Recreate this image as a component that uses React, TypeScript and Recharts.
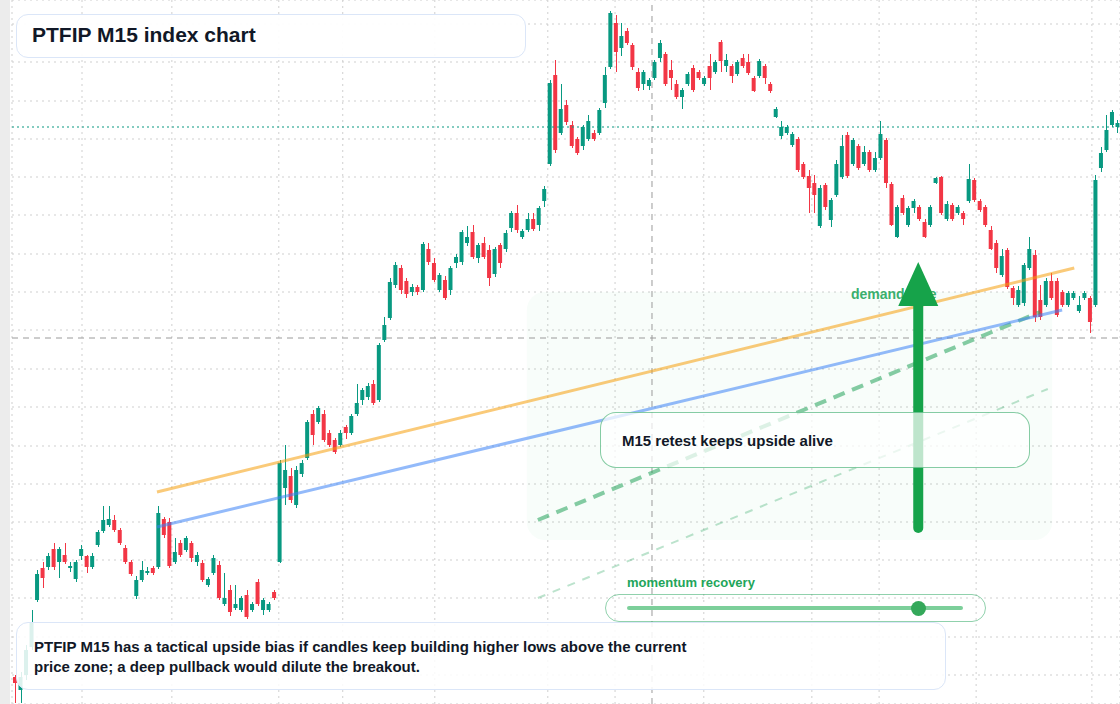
import React from 'react';
import {
  ComposedChart,
  Bar,
  XAxis,
  YAxis,
  CartesianGrid,
  ReferenceLine,
  ReferenceArea,
  ReferenceDot,
} from 'recharts';

// OHLC per M15 bar (index points)
const opens = [
  27, 14, 29, 57, 104, 136, 137, 155, 142, 149,
  136, 125, 148, 148, 137, 159, 173, 179, 184, 174,
  156, 142, 108, 124, 131, 136, 137, 185, 182, 142,
  161, 154, 161, 142, 141, 119, 131, 139, 100, 114,
  96, 94, 109, 94, 122, 94, 94, 112, 142, 216,
  228, 199, 230, 246, 290, 282, 290, 271, 264, 259,
  277, 271, 290, 304, 307, 320, 304, 364, 386, 419,
  436, 423, 412, 417, 414, 455, 441, 414, 424, 414,
  441, 442, 461, 472, 446, 461, 454, 430, 459, 455,
  476, 491, 467, 474, 485, 479, 503, 540, 629, 571,
  599, 579, 565, 558, 565, 571, 571, 601, 637, 681,
  656, 673, 659, 632, 620, 618, 626, 646, 650, 634,
  620, 607, 620, 636, 632, 620, 638, 632, 662, 638,
  638, 630, 646, 642, 626, 628, 638, 620, 587, 568,
  571, 559, 565, 540, 528, 521, 478, 519, 484, 509,
  527, 569, 540, 558, 540, 552, 534, 546, 564, 520,
  467, 506, 479, 496, 497, 482, 479, 521, 527, 485,
  499, 491, 491, 503, 524, 503, 497, 474, 461, 429,
  454, 416, 399, 401, 436, 449, 404, 399, 423, 423,
  412, 399, 406, 393, 406, 406, 399, 536, 554, 579,
  577,
];

const highs = [
  29, 32, 59, 94, 134, 142, 151, 161, 157, 161,
  142, 144, 159, 149, 151, 174, 198, 198, 189, 176,
  159, 144, 128, 143, 137, 138, 198, 187, 186, 166,
  164, 168, 163, 152, 144, 127, 149, 143, 131, 119,
  119, 108, 114, 102, 125, 106, 102, 114, 244, 259,
  236, 238, 244, 284, 294, 298, 294, 274, 266, 274,
  279, 290, 320, 316, 321, 324, 361, 387, 426, 442,
  439, 426, 420, 419, 462, 461, 446, 431, 428, 438,
  450, 474, 478, 479, 461, 467, 459, 457, 461, 474,
  493, 499, 475, 491, 491, 498, 518, 624, 644, 620,
  604, 583, 567, 579, 589, 574, 596, 637, 693, 689,
  681, 676, 661, 636, 634, 626, 644, 664, 652, 644,
  624, 616, 632, 639, 634, 628, 650, 644, 664, 650,
  640, 644, 650, 650, 628, 645, 640, 622, 597, 583,
  579, 572, 567, 542, 534, 529, 519, 521, 506, 544,
  569, 572, 566, 560, 558, 554, 552, 583, 566, 522,
  499, 509, 498, 505, 499, 485, 499, 527, 528, 503,
  501, 499, 493, 540, 526, 505, 499, 478, 464, 455,
  456, 418, 418, 441, 467, 454, 419, 426, 431, 426,
  414, 413, 413, 408, 413, 408, 529, 557, 589, 594,
  584,
];

const lows = [
  1, 1, 24, 54, 102, 116, 134, 134, 126, 140,
  132, 122, 144, 131, 135, 157, 171, 177, 172, 159,
  140, 128, 105, 122, 129, 129, 135, 166, 136, 140,
  147, 152, 142, 138, 122, 117, 129, 104, 98, 88,
  94, 92, 85, 92, 98, 89, 92, 104, 141, 199,
  201, 196, 227, 244, 259, 280, 262, 257, 250, 257,
  265, 269, 288, 299, 304, 299, 302, 362, 384, 416,
  410, 406, 408, 409, 412, 439, 422, 412, 404, 409,
  436, 439, 458, 445, 441, 445, 418, 427, 436, 452,
  472, 471, 465, 472, 473, 473, 497, 538, 551, 569,
  579, 556, 549, 554, 563, 563, 569, 596, 635, 632,
  648, 659, 634, 613, 614, 614, 624, 642, 618, 614,
  605, 595, 618, 612, 624, 618, 614, 630, 632, 632,
  621, 628, 636, 629, 612, 626, 620, 611, 586, 565,
  569, 557, 532, 525, 491, 491, 476, 494, 477, 507,
  525, 526, 538, 534, 538, 532, 532, 544, 516, 478,
  466, 489, 477, 491, 483, 466, 477, 520, 489, 483,
  483, 489, 479, 501, 502, 492, 477, 454, 431, 427,
  415, 399, 397, 398, 434, 382, 384, 397, 404, 387,
  397, 397, 404, 391, 404, 371, 397, 532, 552, 577,
  571,
];

const closes = [
  21, 27, 54, 82, 130, 126, 148, 137, 155, 142,
  138, 142, 155, 137, 148, 172, 184, 185, 174, 161,
  142, 130, 124, 134, 133, 131, 191, 169, 138, 152,
  149, 166, 146, 149, 124, 125, 146, 106, 106, 92,
  100, 106, 87, 100, 100, 104, 100, 106, 241, 234,
  204, 234, 241, 282, 269, 296, 264, 259, 252, 271,
  271, 288, 301, 314, 318, 301, 359, 379, 422, 439,
  414, 410, 417, 412, 460, 442, 424, 429, 406, 436,
  447, 472, 467, 447, 459, 447, 426, 455, 441, 471,
  491, 474, 473, 485, 475, 496, 515, 621, 554, 595,
  582, 558, 551, 577, 583, 565, 594, 629, 691, 652,
  668, 661, 637, 616, 632, 624, 642, 661, 620, 626,
  607, 614, 630, 614, 626, 626, 626, 642, 643, 644,
  628, 642, 638, 631, 613, 643, 626, 613, 595, 577,
  577, 570, 534, 527, 516, 509, 516, 497, 504, 540,
  558, 528, 564, 536, 552, 534, 546, 570, 521, 479,
  497, 491, 496, 503, 485, 467, 497, 526, 491, 500,
  485, 497, 485, 525, 504, 494, 479, 455, 436, 448,
  417, 406, 414, 439, 455, 387, 387, 423, 406, 389,
  399, 411, 411, 399, 411, 382, 524, 551, 574, 592,
  581,
];

// session boundaries (bar index) and price grid levels
const sessionTicks = [12.2, 28.5, 47.9, 59.5, 76.2, 96.7, 108.9, 125.0, 144.6, 156.8, 174.4, 195.4];
const priceGrid = [29, 67, 106, 144, 182, 220, 258, 297, 335, 374, 412, 450, 489, 527, 565, 603, 642, 680];

const crosshairBar = 115.6;
const crosshairPrice = 366;
const lastPrice = 577;

const resistanceLine = [{ x: 25.8, y: 212 }, { x: 192.2, y: 436 }];
const supportLine = [{ x: 25.8, y: 177 }, { x: 190.0, y: 394 }];
const fastProjection = [{ x: 94.9, y: 184 }, { x: 186.0, y: 392 }];
const slowProjection = [{ x: 94.9, y: 106 }, { x: 187.4, y: 315 }];
const demandZone = { x1: 92.9, x2: 188.2, y1: 164, y2: 412 };
const demandLabel = { x: 151.7, y: 405, text: 'demand side' };
const arrowBar = 163.9;
const arrowFrom = 176;
const arrowBase = 402;
const arrowTip = 442;

const UP = '#089981';
const DOWN = '#f23645';
const FONT = '"Liberation Sans", Arial, Helvetica, sans-serif';

const data = opens.map((open, i) => ({
  i,
  open,
  high: highs[i],
  low: lows[i],
  close: closes[i],
  range: [lows[i], highs[i]],
}));

const Candle = (props: any) => {
  const { x, y, width, height, payload } = props;
  if (!payload) return null;
  const { open, close, high, low } = payload;
  const top = Math.min(y, y + height);
  const span = Math.abs(height);
  const k = high === low ? 0 : span / (high - low);
  const toY = (v: number) => top + (high - v) * k;
  const color = close >= open ? UP : DOWN;
  const bodyTop = toY(Math.max(open, close));
  const bodyH = Math.max(2, Math.abs(open - close) * k);
  const cx = Math.round(x + width / 2) + 0.5;
  return (
    <g>
      <line x1={cx} x2={cx} y1={top} y2={top + span} stroke={color} strokeWidth={1} />
      <rect x={x} y={bodyTop} width={width} height={bodyH} fill={color} />
    </g>
  );
};

const ZoneShape = (p: any) => (
  <rect x={p.x} y={p.y} width={p.width} height={p.height} rx={18} fill="#22c55e" fillOpacity={0.03} />
);

const LabelShape = (p: any) => (
  <text x={p.cx} y={p.cy} fill="#22a55a" fillOpacity={0.9} fontSize={14} fontWeight={700} fontFamily={FONT}>
    {demandLabel.text}
  </text>
);

const ArrowHead = (p: any) => (
  <polygon points={`${p.cx},${p.cy} ${p.cx - 20},${p.cy + 44} ${p.cx + 20},${p.cy + 44}`} fill="#16a34a" />
);

const boxBase: React.CSSProperties = {
  position: 'absolute',
  boxSizing: 'border-box',
  fontFamily: FONT,
  fontWeight: 700,
  color: '#111827',
};

export default function App() {
  return (
    <div style={{ position: 'absolute', left: 0, top: 0, width: 1120, height: 704, background: '#fff', overflow: 'hidden' }}>
      <div style={{ position: 'absolute', left: 0, top: 0, width: 10, height: 704, background: '#ececec' }} />
      <div style={{ position: 'absolute', left: 0, top: 0 }}>
        <ComposedChart width={1120} height={704} data={data} margin={{ top: 0, right: 0, bottom: 0, left: 12 }}>
          <CartesianGrid stroke="#cfcfcf" strokeDasharray="2 4" />
          <XAxis type="number" dataKey="i" domain={[-0.5, 200.5]} ticks={sessionTicks} hide allowDataOverflow />
          <YAxis type="number" domain={[0, 704]} ticks={priceGrid} hide allowDataOverflow />
          <ReferenceArea
            x1={demandZone.x1}
            x2={demandZone.x2}
            y1={demandZone.y1}
            y2={demandZone.y2}
            shape={ZoneShape}
          />
          <ReferenceLine x={crosshairBar} stroke="#9a9a9a" strokeDasharray="6 5" />
          <ReferenceLine y={crosshairPrice} stroke="#9a9a9a" strokeDasharray="6 5" />
          <ReferenceLine y={lastPrice} stroke={UP} strokeDasharray="2 3" strokeWidth={1.2} />
          <Bar dataKey="range" shape={<Candle />} barSize={4} isAnimationActive={false} />
          <ReferenceLine segment={slowProjection} stroke="#22a35a" strokeOpacity={0.3} strokeWidth={2} strokeDasharray="8 8" />
          <ReferenceLine segment={fastProjection} stroke="#22a35a" strokeOpacity={0.55} strokeWidth={4} strokeDasharray="12 8" />
          <ReferenceLine segment={resistanceLine} stroke="#f59e0b" strokeOpacity={0.55} strokeWidth={3} />
          <ReferenceLine segment={supportLine} stroke="#3b82f6" strokeOpacity={0.55} strokeWidth={3} />
          <ReferenceLine
            segment={[{ x: arrowBar, y: arrowFrom }, { x: arrowBar, y: arrowBase }]}
            stroke="#16a34a"
            strokeWidth={10}
            strokeLinecap="round"
          />
          <ReferenceDot x={demandLabel.x} y={demandLabel.y} shape={LabelShape} />
          <ReferenceDot x={arrowBar} y={arrowTip} shape={ArrowHead} />
        </ComposedChart>
      </div>

      <div
        style={{
          ...boxBase,
          left: 16,
          top: 14,
          width: 510,
          height: 44,
          border: '1.5px solid #dbe6f8',
          borderRadius: 12,
          background: 'rgba(255,255,255,0.93)',
          paddingLeft: 15,
          fontSize: 21,
          lineHeight: '39px',
        }}
      >
        PTFIP M15 index chart
      </div>

      <div
        style={{
          ...boxBase,
          left: 600,
          top: 412,
          width: 430,
          height: 56,
          border: '1.5px solid rgba(34,163,90,0.55)',
          borderRadius: 16,
          background: 'rgba(255,255,255,0.72)',
          paddingLeft: 21,
          fontSize: 15,
          lineHeight: '55px',
        }}
      >
        M15 retest keeps upside alive
      </div>

      <div style={{ ...boxBase, left: 627, top: 575, fontSize: 13, lineHeight: '16px', color: '#22a55a' }}>
        momentum recovery
      </div>
      <div
        style={{
          ...boxBase,
          left: 605,
          top: 594,
          width: 381,
          height: 28,
          border: '1.5px solid rgba(34,163,90,0.5)',
          borderRadius: 14,
        }}
      />
      <div style={{ position: 'absolute', left: 627, top: 606, width: 336, height: 4, borderRadius: 2, background: '#7ccf9a' }} />
      <div style={{ position: 'absolute', left: 911, top: 601, width: 15, height: 15, borderRadius: '50%', background: '#34a85a' }} />

      <div
        style={{
          ...boxBase,
          left: 16,
          top: 622,
          width: 930,
          height: 68,
          border: '1.5px solid #dbe6f8',
          borderRadius: 12,
          background: 'rgba(255,255,255,0.86)',
          padding: '14px 0 0 17px',
          fontSize: 15,
          lineHeight: '20px',
        }}
      >
        PTFIP M15 has a tactical upside bias if candles keep building higher lows above the current
        <br />
        price zone; a deep pullback would dilute the breakout.
      </div>
    </div>
  );
}
